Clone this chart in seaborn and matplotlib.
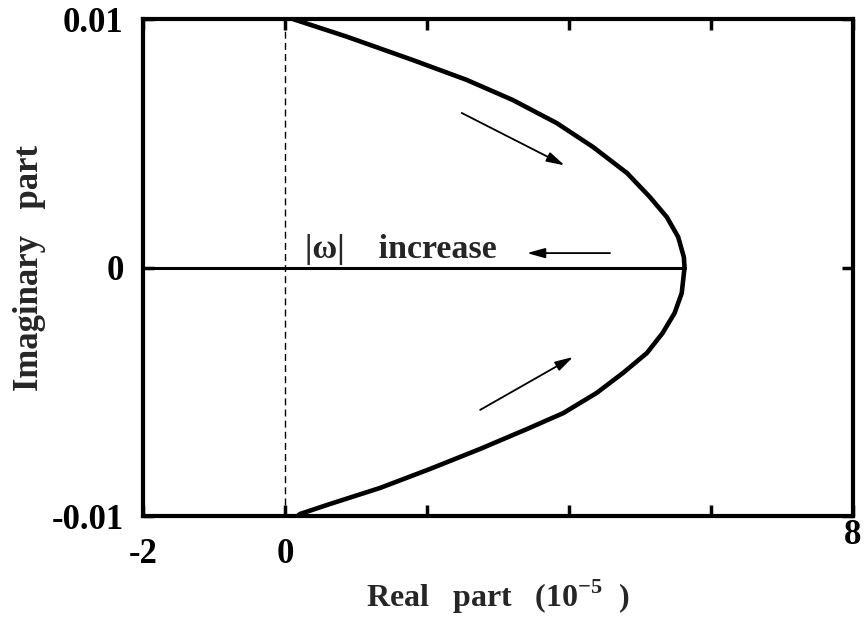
import matplotlib
matplotlib.use("Agg")
import matplotlib.pyplot as plt
import matplotlib.transforms as mtransforms
import pandas as pd
import seaborn as sns

# Locus of the eigenvalue in the complex plane (real part in units of 1e-5)
real_part = [0.11, 0.87, 1.80, 2.56, 3.21, 3.83, 4.34, 4.82, 5.14, 5.38, 5.54, 5.62, 5.63,
             5.59, 5.49, 5.32, 5.10, 4.76, 4.39, 3.92, 3.41, 2.75, 2.04, 1.34, 0.63, 0.21, 0.18]
imag_part = [0.0100, 0.00929, 0.00835, 0.00755, 0.00674, 0.00581, 0.00485, 0.00380,
             0.00284, 0.00203, 0.00123, 0.00042, 0.0,
             -0.00103, -0.00183, -0.00264, -0.00344, -0.00425, -0.00505, -0.00586,
             -0.00650, -0.00730, -0.00811, -0.00887, -0.00952, -0.00992, -0.0100]

# Real-axis segment drawn from the left edge to the turning point
axis_real = [-2.0, 5.63]
axis_imag = [0.0, 0.0]

x_ticks = [-2, 0, 2, 4, 6, 8]
x_tick_labels = ["-2", "0", "", "", "", "8"]
y_ticks = [-0.01, 0, 0.01]
y_tick_labels = ["-0.01", "0", "0.01"]

# Direction arrows: (tail_x, tail_y, head_x, head_y)
arrows = [
    (2.49, 0.00622, 3.94, 0.00411),
    (4.58, 0.00058, 3.41, 0.00058),
    (2.75, -0.00573, 4.06, -0.00360),
]

sns.set_theme(style="ticks")
plt.rcParams["font.family"] = ["Liberation Serif", "DejaVu Serif"]
plt.rcParams["font.weight"] = "bold"
plt.rcParams["mathtext.fontset"] = "custom"
plt.rcParams["mathtext.rm"] = "Liberation Serif:bold"
plt.rcParams["mathtext.bf"] = "Liberation Serif:bold"

fig = plt.figure(figsize=(8.64, 6.23), dpi=100)
ax = fig.add_axes([0.1655, 0.1717, 0.987 - 0.1655, 0.9695 - 0.1717])

locus = pd.DataFrame({"re": real_part, "im": imag_part})
sns.lineplot(data=locus, x="re", y="im", sort=False, estimator=None,
             color="black", linewidth=3.3, ax=ax)
sns.lineplot(x=axis_real, y=axis_imag, sort=False, estimator=None,
             color="black", linewidth=2.2, ax=ax)

ax.axvline(0, color="black", linewidth=1.0, linestyle=(0, (5, 3)))

for tx, ty, hx, hy in arrows:
    ax.annotate("", xy=(hx, hy), xytext=(tx, ty),
                arrowprops=dict(arrowstyle="-|>,head_length=0.9,head_width=0.25",
                                color="black", lw=1.3, shrinkA=0, shrinkB=0))

ax.text(0.28, 0.00038, "|ω|    increase", fontsize=24.5, fontweight="bold",
        ha="left", va="baseline", family=["Liberation Serif", "DejaVu Serif"])

ax.set_xlim(-2, 8)
ax.set_ylim(-0.01, 0.01)
ax.set_xticks(x_ticks)
ax.set_xticklabels(x_tick_labels)
ax.set_yticks(y_ticks)
ax.set_yticklabels(y_tick_labels)

ax.tick_params(axis="both", direction="in", length=8, width=2.5,
               top=True, right=True, labelsize=25, colors="black")
ax.tick_params(axis="x", pad=16)
ax.tick_params(axis="y", pad=14)
for lab in ax.get_xticklabels() + ax.get_yticklabels():
    lab.set_fontweight("bold")

# lift the right-most x label up beside the corner
lab8 = ax.get_xticklabels()[-1]
lab8.set_transform(lab8.get_transform() +
                   mtransforms.ScaledTranslation(0, 0.19, fig.dpi_scale_trans))

for side in ["left", "right", "top", "bottom"]:
    ax.spines[side].set_linewidth(3)
    ax.spines[side].set_color("black")

ax.set_xlabel(r"Real   part   (10$^{\mathbf{-5}}$  )", fontsize=23, fontweight="bold", labelpad=5)
ax.set_ylabel("Imaginary   part", fontsize=25, fontweight="bold", labelpad=4)

fig.savefig("out.png", dpi=100, facecolor="white")
